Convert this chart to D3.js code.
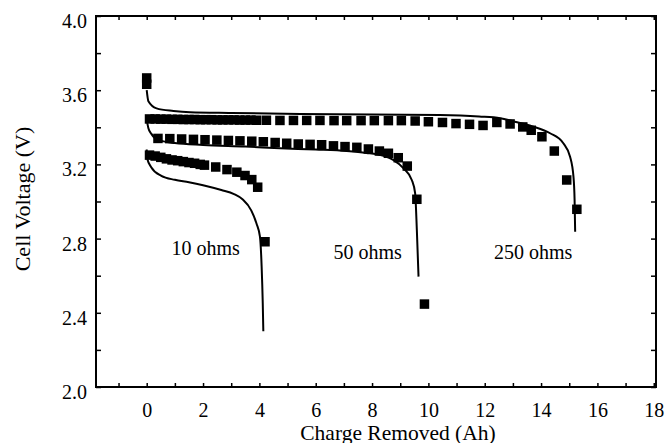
<!DOCTYPE html>
<html>
<head>
<meta charset="utf-8">
<script src="https://cdn.jsdelivr.net/npm/d3@7"></script>
<style>
  html, body { margin: 0; padding: 0; background: #fff; }
  svg { display: block; }
  text { font-family: "Liberation Serif", "Times New Roman", serif; fill: #000; }
</style>
</head>
<body>
<svg id="chart" width="667" height="443"></svg>
<script>
// Discharge of one cell through three load resistors: measured points and model curves.

// Axis ticks
const xTickLabels = [0, 2, 4, 6, 8, 10, 12, 14, 16, 18];
const xMinorTicks = [-1, 1, 3, 5, 7, 9, 11, 13, 15, 17];
const yTickLabels = [2.0, 2.4, 2.8, 3.2, 3.6, 4.0];
const yMinorTicks = [2.2, 2.6, 3.0, 3.4, 3.8];

// Open-circuit readings before the load is applied [Ah, V]
const restPoints = [[0, 3.666], [0, 3.632]];

// Measured points [charge removed (Ah), cell voltage (V)]
const meas250 = [
  [0.1, 3.445], [0.3, 3.445], [0.5, 3.444], [0.7, 3.444], [0.9, 3.443], [1.1, 3.443],
  [1.3, 3.442], [1.5, 3.442], [1.7, 3.442], [1.9, 3.441], [2.1, 3.441], [2.3, 3.441],
  [2.5, 3.440], [2.7, 3.440], [2.9, 3.440], [3.1, 3.440], [3.3, 3.439], [3.5, 3.439],
  [3.7, 3.439], [3.9, 3.438], [4.25, 3.438], [4.73, 3.437], [5.21, 3.437], [5.68, 3.437],
  [6.15, 3.437], [6.65, 3.436], [7.10, 3.436], [7.61, 3.436], [8.08, 3.436], [8.58, 3.436],
  [9.04, 3.436], [9.53, 3.434], [10.0, 3.430], [10.5, 3.426], [10.98, 3.420], [11.46, 3.416],
  [11.94, 3.410], [12.43, 3.426], [12.90, 3.418], [13.35, 3.402], [13.65, 3.384], [14.03, 3.349],
  [14.47, 3.272], [14.91, 3.116], [15.27, 2.958]
];
const meas50 = [
  [0.40, 3.340], [0.82, 3.339], [1.24, 3.337], [1.66, 3.335], [2.07, 3.333], [2.49, 3.331],
  [2.90, 3.329], [3.31, 3.327], [3.73, 3.325], [4.14, 3.322], [4.56, 3.318], [4.97, 3.314],
  [5.38, 3.310], [5.80, 3.308], [6.21, 3.306], [6.63, 3.300], [7.04, 3.296], [7.46, 3.292],
  [7.87, 3.283], [8.26, 3.272], [8.58, 3.260], [8.93, 3.236], [9.25, 3.191], [9.59, 3.012],
  [9.86, 2.447]
];
const meas10 = [
  [0.1, 3.250], [0.3, 3.245], [0.5, 3.238], [0.7, 3.230], [0.9, 3.224], [1.1, 3.220],
  [1.3, 3.215], [1.5, 3.210], [1.7, 3.206], [1.9, 3.200], [2.05, 3.196], [2.45, 3.186],
  [2.85, 3.172], [3.20, 3.158], [3.49, 3.140], [3.73, 3.118], [3.94, 3.077], [4.20, 2.783]
];

// Model curves [Ah, V]
const model250 = [
  [0, 3.600], [0.06, 3.540], [0.35, 3.502], [0.95, 3.488], [1.54, 3.481], [3.0, 3.477],
  [5.45, 3.472], [8.0, 3.469], [10.4, 3.466], [11.8, 3.458], [12.55, 3.449], [13.0, 3.433],
  [13.7, 3.405], [14.32, 3.368], [14.79, 3.314], [15.03, 3.241], [15.15, 3.134], [15.19, 3.008],
  [15.21, 2.837]
];
const model50 = [
  [0, 3.440], [0.06, 3.395], [0.16, 3.366], [0.40, 3.332], [1.0, 3.315], [2.0, 3.305],
  [3.5, 3.296], [4.73, 3.287], [6.0, 3.280], [7.1, 3.272], [7.8, 3.262], [8.28, 3.251],
  [8.75, 3.224], [9.11, 3.180], [9.41, 3.116], [9.53, 3.044], [9.59, 2.846], [9.65, 2.595]
];
const model10 = [
  [0, 3.280], [0.02, 3.230], [0.16, 3.185], [0.52, 3.138], [1.0, 3.117], [1.5, 3.104],
  [2.0, 3.088], [2.65, 3.062], [3.1, 3.040], [3.4, 3.012], [3.71, 2.952], [3.9, 2.880],
  [4.02, 2.810], [4.08, 2.650], [4.12, 2.450], [4.14, 2.300]
];

const loadNames = ["10 ohms", "50 ohms", "250 ohms"];

// Layout
const svg = d3.select("#chart");
const plotLeft = 96, plotRight = 656, plotTop = 16, plotBottom = 387;

const x = d3.scaleLinear().domain([-1.8, 18.08]).range([plotLeft, plotRight]);
const y = d3.scaleLinear().domain([2.0, 4.0]).range([plotBottom, plotTop]);

const allX = xTickLabels.concat(xMinorTicks).sort((a, b) => a - b);
const allY = yTickLabels.concat(yMinorTicks).sort((a, b) => a - b);
const fmtX = d => xTickLabels.includes(d) ? d3.format("d")(d) : "";
const fmtY = d => yTickLabels.some(v => Math.abs(v - d) < 1e-9) ? d3.format(".1f")(d) : "";

function styleAxis(g) {
  g.select(".domain").remove();
  g.selectAll(".tick line").attr("stroke", "#000").attr("stroke-width", 1.5);
  g.selectAll(".tick text").style("font-size", "20px").attr("fill", "#000");
}

// Bottom axis with labels
svg.append("g")
  .attr("transform", `translate(0,${plotBottom})`)
  .call(d3.axisBottom(x).tickValues(allX).tickSizeInner(-4).tickSizeOuter(0)
    .tickPadding(16).tickFormat(fmtX))
  .call(styleAxis);

// Top axis (ticks only)
svg.append("g")
  .attr("transform", `translate(0,${plotTop})`)
  .call(d3.axisTop(x).tickValues(allX).tickSizeInner(-4).tickSizeOuter(0).tickFormat(""))
  .call(styleAxis);

// Left axis with labels
svg.append("g")
  .attr("transform", `translate(${plotLeft},0)`)
  .call(d3.axisLeft(y).tickValues(allY).tickSizeInner(-5).tickSizeOuter(0)
    .tickPadding(9).tickFormat(fmtY))
  .call(styleAxis)
  .call(g => g.selectAll(".tick text").attr("dy", "0.57em"));

// Right axis (ticks only)
svg.append("g")
  .attr("transform", `translate(${plotRight},0)`)
  .call(d3.axisRight(y).tickValues(allY).tickSizeInner(-5).tickSizeOuter(0).tickFormat(""))
  .call(styleAxis);

// Plot frame
svg.append("rect")
  .attr("x", plotLeft).attr("y", plotTop)
  .attr("width", plotRight - plotLeft).attr("height", plotBottom - plotTop)
  .attr("fill", "none").attr("stroke", "#000").attr("stroke-width", 2);

// Model curves
const line = d3.line().x(d => x(d[0])).y(d => y(d[1])).curve(d3.curveMonotoneX);
svg.append("g")
  .selectAll("path")
  .data([model10, model50, model250])
  .join("path")
  .attr("d", line)
  .attr("fill", "none")
  .attr("stroke", "#000")
  .attr("stroke-width", 2);

// Measured points as filled squares
const sq = 9.5;
svg.append("g")
  .selectAll("rect")
  .data(restPoints.concat(meas250, meas50, meas10))
  .join("rect")
  .attr("x", d => x(d[0]) - sq / 2)
  .attr("y", d => y(d[1]) - sq / 2)
  .attr("width", sq)
  .attr("height", sq)
  .attr("fill", "#000");

// Load labels
const labelPos = [[171.5, 255], [333.5, 259], [494, 259]];
svg.append("g")
  .selectAll("text")
  .data(loadNames)
  .join("text")
  .attr("x", (d, i) => labelPos[i][0])
  .attr("y", (d, i) => labelPos[i][1])
  .style("font-size", "20px")
  .text(d => d);

// Axis titles
svg.append("text")
  .attr("x", 398).attr("y", 439.5)
  .attr("text-anchor", "middle")
  .style("font-size", "21.5px")
  .text("Charge Removed (Ah)");

svg.append("text")
  .attr("transform", "translate(30,199) rotate(-90)")
  .attr("text-anchor", "middle")
  .style("font-size", "22px")
  .text("Cell Voltage (V)");
</script>
</body>
</html>
